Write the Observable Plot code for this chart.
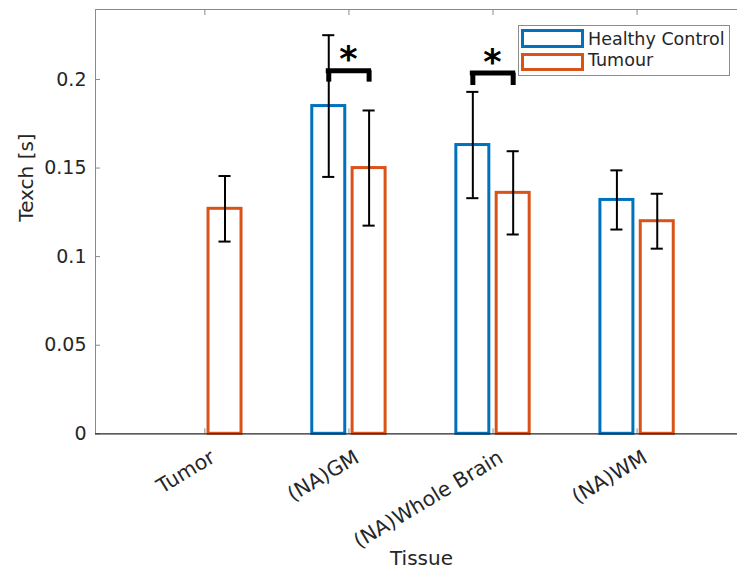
<!DOCTYPE html>
<html>
<head>
<meta charset="utf-8">
<script src="https://cdn.jsdelivr.net/npm/d3@7"></script>
<script src="https://cdn.jsdelivr.net/npm/@observablehq/plot@0.6"></script>
<style>
  body { margin: 0; background: #fff; }
  #wrap { position: relative; width: 737px; height: 570px; font-family: "DejaVu Sans", sans-serif; }
  #legend { position: absolute; left: 517.5px; top: 24.5px; width: 212px; height: 51px; box-sizing: border-box; border: 1px solid #8c8c8c; background: #fff; }
  .sw { position: absolute; left: 2.5px; width: 62.5px; height: 18.7px; box-sizing: border-box; border: 3px solid; }
  .lt { position: absolute; left: 69.5px; font-size: 17.5px; color: #262626; line-height: 1; white-space: nowrap; }
</style>
</head>
<body>
<div id="wrap"></div>
<script>
const categories = ["Tumor", "(NA)GM", "(NA)Whole Brain", "(NA)WM"];
const healthyMean = [null, 0.185, 0.163, 0.132];
const healthyErr  = [null, 0.040, 0.030, 0.0167];
const tumourMean  = [0.127, 0.150, 0.136, 0.120];
const tumourErr   = [0.0185, 0.0325, 0.0235, 0.0155];
const sigCategories = ["(NA)GM", "(NA)Whole Brain"];
const sigBracketY = [0.2049, 0.2036];
const sigLegY = [0.1985, 0.1966];
const sigLabel = "*";
const yTicks = [0, 0.05, 0.1, 0.15, 0.2];
const yTickLabels = ["0", "0.05", "0.1", "0.15", "0.2"];
const seriesNames = ["Healthy Control", "Tumour"];
const seriesColors = ["#0072BD", "#D95319"];
const xLabel = "Tissue";
const yLabel = "Texch [s]";

const rows = [];
categories.forEach((c, i) => {
  if (healthyMean[i] != null) rows.push({cat: c, pos: i + 1, s: 0, name: seriesNames[0], mean: healthyMean[i], err: healthyErr[i]});
  rows.push({cat: c, pos: i + 1, s: 1, name: seriesNames[1], mean: tumourMean[i], err: tumourErr[i]});
});
const sig = sigCategories.map((c, k) => ({pos: categories.indexOf(c) + 1, y: sigBracketY[k], leg: sigLegY[k]}));

const OFF = 0.14, HW = 0.1145, CAP = 0.042;
const cx = d => d.pos + (d.s === 0 ? -OFF : OFF);
const XDOM = [0.241, 4.697], YDOM = [0, 0.2395];
const GRAY = "#8a8a8a", INK = "#262626";

const chart = Plot.plot({
  width: 737, height: 570,
  marginLeft: 95, marginRight: 0, marginTop: 9, marginBottom: 136.7,
  x: {domain: XDOM, axis: null},
  y: {domain: YDOM, axis: null},
  color: {domain: seriesNames, range: seriesColors},
  style: {fontFamily: "DejaVu Sans, sans-serif", background: "white"},
  marks: [
    // bars
    Plot.rectY(rows, {x1: d => cx(d) - HW, x2: d => cx(d) + HW, y1: 0, y2: "mean", fill: "white", stroke: "name", strokeWidth: 3}),
    // axes frame
    Plot.ruleY([YDOM[1]], {stroke: GRAY, strokeWidth: 1}),
    Plot.ruleX([XDOM[0]], {stroke: GRAY, strokeWidth: 1}),
    Plot.tickY(yTicks, {y: d => d, insetRight: 737 - 95 - 5, stroke: GRAY}),
    Plot.tickX(categories, {x: (d, i) => i + 1, insetBottom: 433.3 - 9 - 6, stroke: GRAY}),
    Plot.tickX(categories, {x: (d, i) => i + 1, insetTop: 433.3 - 9 - 5, stroke: GRAY}),
    Plot.ruleY([0], {stroke: INK, strokeWidth: 1.3}),
    // error bars
    Plot.ruleX(rows, {x: cx, y1: d => d.mean - d.err, y2: d => d.mean + d.err, stroke: "black", strokeWidth: 2}),
    Plot.ruleY(rows, {x1: d => cx(d) - CAP, x2: d => cx(d) + CAP, y: d => d.mean + d.err, stroke: "black", strokeWidth: 2}),
    Plot.ruleY(rows, {x1: d => cx(d) - CAP, x2: d => cx(d) + CAP, y: d => d.mean - d.err, stroke: "black", strokeWidth: 2}),
    // significance brackets
    Plot.ruleY(sig, {x1: d => d.pos - OFF, x2: d => d.pos + OFF, y: "y", stroke: "black", strokeWidth: 5, strokeLinecap: "square"}),
    Plot.ruleX(sig, {x: d => d.pos - OFF, y1: "leg", y2: "y", stroke: "black", strokeWidth: 5}),
    Plot.ruleX(sig, {x: d => d.pos + OFF, y1: "leg", y2: "y", stroke: "black", strokeWidth: 5}),
    Plot.text(sig, {x: "pos", y: "y", text: () => sigLabel, fontSize: 35, fontWeight: "bold", lineAnchor: "bottom", dx: -0.5, dy: 0.5, fill: "black"}),
    // tick labels
    Plot.text(yTicks, {y: d => d, frameAnchor: "left", text: (d, i) => yTickLabels[i], textAnchor: "end", dx: -9, fontSize: 19, fill: INK}),
    Plot.text(categories, {x: (d, i) => i + 1, frameAnchor: "bottom", text: d => d, rotate: -31, textAnchor: "end", lineAnchor: "top", dx: 4, dy: 15, fontSize: 20.5, fill: INK}),
    // axis labels
    Plot.text([yLabel], {frameAnchor: "left", text: d => d, rotate: -90, lineAnchor: "bottom", dx: -63, fontSize: 20, fill: INK}),
    Plot.text([xLabel], {frameAnchor: "bottom", text: d => d, lineAnchor: "bottom", dx: 5, dy: 131.5, fontSize: 20, fill: INK})
  ]
});
const wrap = document.getElementById("wrap");
wrap.appendChild(chart);

// legend
const leg = document.createElement("div");
leg.id = "legend";
seriesNames.forEach((n, k) => {
  const sw = document.createElement("div");
  sw.className = "sw";
  sw.style.borderColor = seriesColors[k];
  sw.style.top = (k === 0 ? 3.8 : 27.2) + "px";
  leg.appendChild(sw);
  const t = document.createElement("div");
  t.className = "lt";
  t.textContent = n;
  t.style.top = (k === 0 ? 5.0 : 26.7) + "px";
  leg.appendChild(t);
});
wrap.appendChild(leg);
</script>
</body>
</html>
